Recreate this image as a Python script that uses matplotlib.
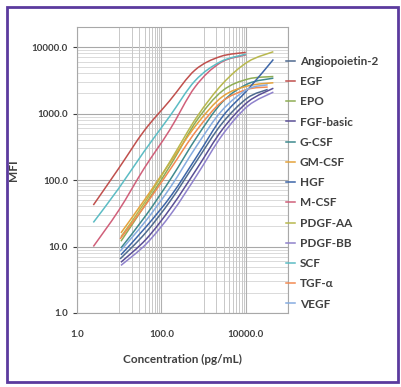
import numpy as np
import matplotlib
matplotlib.use('Agg')
import matplotlib.pyplot as plt
from matplotlib.path import Path
from matplotlib.patches import PathPatch, Rectangle
from matplotlib.lines import Line2D

plt.rcParams['font.family'] = ['Lato', 'DejaVu Sans']

# standard curves, concentration in pg/mL vs MFI
analytes = ['Angiopoietin-2', 'EGF', 'EPO', 'FGF-basic', 'G-CSF', 'GM-CSF', 'HGF',
            'M-CSF', 'PDGF-AA', 'PDGF-BB', 'SCF', 'TGF-α', 'VEGF']
colors = ['#4f6a8f', '#c0504d', '#8fae55', '#5a4f96', '#3f8a8e', '#e4a33c', '#3d66a8',
          '#d0607a', '#b8b84e', '#8f82cc', '#5cbcc4', '#f28a52', '#86ace0']

conc_low = [2.44, 9.77, 39.1, 156, 625, 2500, 10000]
conc_high = [11.0, 44, 176, 703, 2812, 11250, 45000]
conc_mid = [10.5, 42, 168, 672, 2688, 10750, 33000]

mfi_ang2 = [6.5, 16, 50, 190, 700, 1700, 2300]
mfi_egf = [42, 150, 550, 1550, 4500, 7200, 8300]
mfi_epo = [12, 45, 180, 800, 2200, 3300, 3600]
mfi_fgfb = [5.8, 13, 40, 150, 580, 1500, 2400]
mfi_gcsf = [9.5, 30, 110, 450, 1500, 2800, 3400]
mfi_gmcsf = [16, 55, 200, 700, 1800, 2600, 2900]
mfi_hgf = [7.5, 20, 60, 230, 900, 2300, 6500]
mfi_mcsf = [10, 35, 150, 560, 2500, 5800, 7600]
mfi_pdgfaa = [14, 50, 210, 900, 2800, 6000, 8500]
mfi_pdgfbb = [5.2, 11, 32, 120, 480, 1300, 2100]
mfi_scf = [23, 75, 270, 900, 3100, 6000, 7800]
mfi_tgfa = [13, 42, 150, 550, 1500, 2300, 2500]
mfi_vegf = [8.5, 24, 80, 320, 1100, 2300, 2700]

series = [
    (conc_mid, mfi_ang2), (conc_low, mfi_egf), (conc_high, mfi_epo),
    (conc_high, mfi_fgfb), (conc_high, mfi_gcsf), (conc_high, mfi_gmcsf),
    (conc_high, mfi_hgf), (conc_low, mfi_mcsf), (conc_high, mfi_pdgfaa),
    (conc_high, mfi_pdgfbb), (conc_low, mfi_scf), (conc_mid, mfi_tgfa),
    (conc_mid, mfi_vegf),
]


def smooth_path(xs, ys):
    # excel style smoothed line: catmull-rom bezier in log-log space
    pts = np.column_stack([np.log10(xs), np.log10(ys)])
    n = len(pts)
    verts = [pts[0]]
    codes = [Path.MOVETO]
    for i in range(n - 1):
        p0 = pts[i - 1] if i > 0 else pts[i]
        p3 = pts[i + 2] if i + 2 < n else pts[i + 1]
        c1 = pts[i] + (pts[i + 1] - p0) / 6.0
        c2 = pts[i + 1] - (p3 - pts[i]) / 6.0
        verts += [c1, c2, pts[i + 1]]
        codes += [Path.CURVE4] * 3
    return Path(10 ** np.array(verts), codes)


fig = plt.figure(figsize=(4.01, 3.87), dpi=100)
ax = fig.add_axes([77 / 401, 74 / 387, 211 / 401, 286 / 387])

ax.set_xscale('log')
ax.set_yscale('log')
ax.set_xlim(1, 1e5)
ax.set_ylim(1, 2e4)

# grid: horizontal in every decade, vertical minor only in some decades
for d in range(0, 5):
    ax.axhline(10 ** d, color='#a8a8a8', lw=0.8, zorder=0)
    for m in range(2, 10):
        v = m * 10 ** d
        if v < 2e4:
            ax.axhline(v, color='#d4d4d4', lw=0.6, zorder=0)
for v in [1, 100, 10000, 1e5]:
    ax.axvline(v, color='#b0b0b0', lw=0.8, zorder=0)
for d in [1, 3]:
    ax.axvline(10 ** d, color='#c8c8c8', lw=0.7, zorder=0)
    for m in range(2, 10):
        ax.axvline(m * 10 ** d, color='#c8c8c8', lw=0.7, zorder=0)

for (xs, ys), col in zip(series, colors):
    ax.add_patch(PathPatch(smooth_path(xs, ys), fill=False, edgecolor=col, lw=1.1, zorder=3))

for sp in ax.spines.values():
    sp.set_color('#a8a8a8')
    sp.set_linewidth(0.8)

ax.set_xticks([1, 100, 10000])
ax.set_xticklabels(['1.0', '100.0', '10000.0'])
ax.set_yticks([1, 10, 100, 1000, 10000])
ax.set_yticklabels(['1.0', '10.0', '100.0', '1000.0', '10000.0'])
ax.xaxis.set_minor_locator(plt.NullLocator())
ax.yaxis.set_minor_locator(plt.NullLocator())
ax.tick_params(axis='both', labelsize=7, colors='#404040', length=3, width=0.8)
ax.tick_params(axis='x', length=0, pad=12)
for lab in ax.get_xticklabels() + ax.get_yticklabels():
    lab.set_fontweight('bold')

ax.set_xlabel('Concentration (pg/mL)', fontsize=8.5, fontweight='bold', color='#404040', labelpad=11)
ax.set_ylabel('MFI', fontsize=8.5, fontweight='bold', color='#404040', labelpad=9)

handles = [Line2D([], [], color=c, lw=1.1) for c in colors]
leg = fig.legend(handles, analytes, loc='upper left', bbox_to_anchor=(286 / 401, 1 - 56 / 387),
                 frameon=False, fontsize=8.5, handlelength=0.8, handletextpad=0.35,
                 labelspacing=0.78, borderpad=0, borderaxespad=0)
for t in leg.get_texts():
    t.set_fontweight('bold')
    t.set_color('#404040')

# purple frame around the figure
fig.patches.append(Rectangle((7 / 401, 5 / 387), 391 / 401, 375 / 387, transform=fig.transFigure,
                             fill=False, edgecolor='#5b3a9e', lw=2))

fig.savefig('out.png', dpi=100)
